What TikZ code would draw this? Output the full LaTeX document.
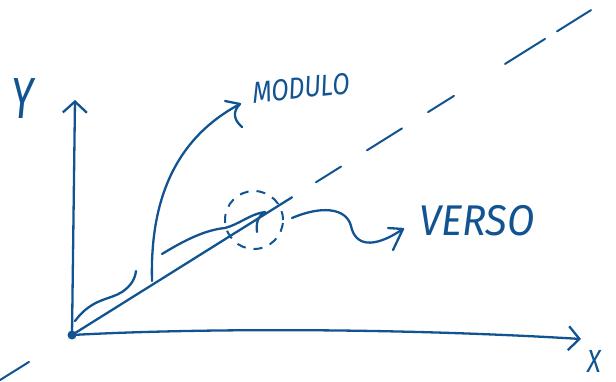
\documentclass[tikz,border=0pt]{standalone}
\usepackage{fontspec}
\setmainfont{Fira Sans}
\usetikzlibrary{arrows.meta}
\definecolor{ink}{RGB}{17,84,145}
\tikzset{
  pen/.style={draw=ink, line width=2.3pt, line cap=round, line join=round},
  thinpen/.style={draw=ink, line width=2pt, line cap=round},
  barb/.style={-{Straight Barb[length=11pt,width=24pt,line width=2.3pt]}},
  hand/.style={text=ink, inner sep=0pt, font=\itshape}
}
\begin{document}
\begin{tikzpicture}[x=1pt,y=-1pt]
\useasboundingbox (0,0) rectangle (616,382);
% named points
\coordinate (O) at (72,335);
\coordinate (ytip) at (75,100);
\coordinate (xtip) at (581,339);
\coordinate (vend) at (292,197.3);
\foreach \n/\a/\b in {d1/316/341, d2/367/402, d3/428/454, d4/505/545, d5/557/591, d0/0/29}{
  \coordinate (\n a) at (\a,{335-0.626*(\a-72)});
  \coordinate (\n b) at (\b,{335-0.626*(\b-72)});
}
% axes
\draw[pen,barb] (O) -- (ytip);
\draw[pen,barb] (O) .. controls (200,328) and (400,328) .. (xtip);
% vector and its dashed extension
\draw[pen] (O) -- (vend);
\foreach \n in {d0,d1,d2,d3,d4,d5}{\draw[thinpen] (\n a) -- (\n b);}
% origin dot
\node[circle, fill=ink, inner sep=0pt, minimum size=9pt] (dot) at (O) {};
% small wavy stroke near origin
\coordinate (w1) at (75,321);
\coordinate (w2) at (136,271);
\draw[pen] (w1) .. controls (92,298) and (110,300) .. (122,292) .. controls (131,286) and (135,279) .. (w2);
% modulo arc
\coordinate (m0) at (152,281);
\coordinate (mtip) at (240,104);
\draw[pen] (m0) .. controls (150,205) and (172,140) .. (mtip);
\draw[pen] (225,101) -- (mtip) .. controls (232,112) and (234,120) .. (242,127);
% dashed circle
\node[circle, draw=ink, line width=2pt, dash pattern=on 9pt off 8pt, minimum size=58pt, inner sep=0pt] (circ) at (254,220) {};
% wavy direction arrow
\coordinate (v0) at (162,254);
\coordinate (vtip) at (265,212);
\draw[pen] (v0) .. controls (185,240) and (205,230) .. (225,228) .. controls (240,224) and (250,214) .. (vtip);
\draw[pen] (257,232) .. controls (256,222) and (258,216) .. (vtip);
% verso squiggle
\coordinate (s0) at (292,218);
\coordinate (stip) at (403,229);
\draw[pen] (s0) .. controls (320,206) and (346,207) .. (351,226) .. controls (355,245) and (372,250) .. (stip);
\draw[pen] (388,228) -- (stip) -- (393,250);
% labels
\node[hand, font=\itshape\fontsize{58}{58}\selectfont, xscale=0.7] (ylab) at (23,99) {Y};
\node[hand, font=\itshape\fontsize{32}{32}\selectfont, xscale=0.8] (xlab) at (594,361) {X};
\node[hand, font=\itshape\fontsize{30}{30}\selectfont, xscale=0.84, rotate=5] (modulo) at (301,88) {MODULO};
\node[hand, font=\itshape\fontsize{43}{43}\selectfont, xscale=0.93] (verso) at (477,221) {VERSO};
\end{tikzpicture}
\end{document}
